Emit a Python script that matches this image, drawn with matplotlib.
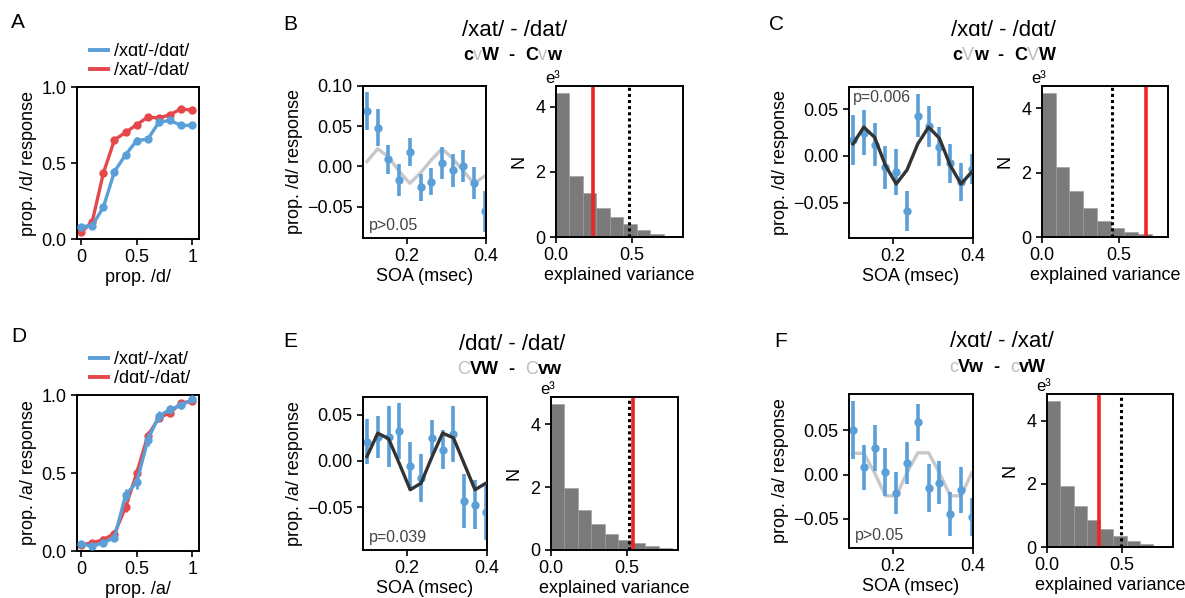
import numpy as np
import matplotlib
matplotlib.use("Agg")
import matplotlib.pyplot as plt
from matplotlib.lines import Line2D

plt.rcParams['font.family'] = ['Liberation Sans', 'DejaVu Sans']
plt.rcParams['axes.linewidth'] = 1.4
plt.rcParams['xtick.labelsize'] = 13
plt.rcParams['ytick.labelsize'] = 13
plt.rcParams['axes.labelsize'] = 13
plt.rcParams['xtick.major.width'] = 1.2
plt.rcParams['ytick.major.width'] = 1.2
plt.rcParams['xtick.major.size'] = 4
plt.rcParams['ytick.major.size'] = 4

blue = '#5a9fd8'
red = '#e5484a'

# psychometric curves (A, D)
prop = [0.0, 0.1, 0.2, 0.3, 0.4, 0.5, 0.6, 0.7, 0.8, 0.9, 1.0]
A_blue = [0.081, 0.088, 0.209, 0.444, 0.554, 0.648, 0.657, 0.769, 0.780, 0.747, 0.747]
A_red = [0.044, 0.114, 0.433, 0.653, 0.701, 0.752, 0.802, 0.796, 0.818, 0.857, 0.846]
A_blue_err = [0.015, 0.015, 0.02, 0.02, 0.02, 0.02, 0.02, 0.02, 0.015, 0.015, 0.015]
A_red_err = [0.015, 0.015, 0.02, 0.02, 0.02, 0.02, 0.015, 0.015, 0.015, 0.015, 0.015]
D_blue = [0.047, 0.030, 0.054, 0.084, 0.360, 0.440, 0.714, 0.865, 0.908, 0.933, 0.972]
D_red = [0.040, 0.052, 0.073, 0.112, 0.280, 0.500, 0.740, 0.854, 0.886, 0.950, 0.960]
D_blue_err = [0.015, 0.015, 0.02, 0.02, 0.04, 0.04, 0.04, 0.035, 0.03, 0.02, 0.02]
D_red_err = [0.015, 0.015, 0.02, 0.02, 0.03, 0.03, 0.03, 0.02, 0.02, 0.015, 0.015]

# SOA behavioural oscillations (B, C, E, F)
soa = [0.100, 0.127, 0.154, 0.181, 0.208, 0.235, 0.262, 0.289, 0.316, 0.343, 0.370, 0.397]
B_y = [0.069, 0.048, 0.009, -0.017, 0.018, -0.026, -0.019, 0.004, -0.005, 0.001, -0.021, -0.056]
B_err = [0.024, 0.023, 0.018, 0.020, 0.017, 0.017, 0.017, 0.020, 0.020, 0.020, 0.020, 0.025]
B_fit = [0.006, 0.022, 0.012, -0.006, -0.021, -0.008, 0.008, 0.022, 0.010, -0.006, -0.021, -0.012]
C_y = [0.017, 0.025, 0.012, -0.012, -0.017, -0.059, 0.043, 0.032, 0.010, -0.008, -0.028, -0.014]
C_err = [0.027, 0.024, 0.023, 0.023, 0.025, 0.021, 0.023, 0.022, 0.021, 0.021, 0.020, 0.016]
C_fit = [0.013, 0.031, 0.020, -0.010, -0.030, -0.015, 0.013, 0.031, 0.019, -0.010, -0.030, -0.017]
E_y = [0.021, 0.026, 0.026, 0.032, -0.005, -0.018, 0.025, 0.012, 0.029, -0.043, -0.047, -0.055]
E_err = [0.024, 0.023, 0.033, 0.030, 0.026, 0.026, 0.019, 0.021, 0.030, 0.029, 0.026, 0.030]
E_fit = [0.005, 0.030, 0.024, -0.003, -0.031, -0.024, 0.004, 0.030, 0.025, -0.003, -0.031, -0.024]
F_y = [0.050, 0.008, 0.030, 0.003, -0.021, 0.013, 0.059, -0.015, -0.009, -0.045, -0.017, -0.048]
F_err = [0.033, 0.025, 0.026, 0.027, 0.024, 0.024, 0.021, 0.027, 0.024, 0.025, 0.026, 0.021]
F_fit = [0.024, 0.024, 0.002, -0.024, -0.024, 0.002, 0.0245, 0.0245, 0.002, -0.024, -0.024, 0.002]

# permutation histograms (counts in thousands)
bin_left = [0.0, 0.089, 0.178, 0.267, 0.356, 0.445, 0.534, 0.623, 0.712, 0.801]
B_hist = [4.42, 1.88, 1.36, 0.90, 0.61, 0.41, 0.22, 0.10, 0.04, 0.01]
C_hist = [4.47, 2.19, 1.42, 0.90, 0.51, 0.28, 0.155, 0.09, 0.04, 0.01]
E_hist = [4.64, 1.98, 1.27, 0.82, 0.50, 0.32, 0.21, 0.13, 0.05, 0.01]
F_hist = [4.62, 1.94, 1.31, 0.86, 0.57, 0.34, 0.18, 0.095, 0.02, 0.01]
observed = {'B': 0.247, 'C': 0.677, 'E': 0.540, 'F': 0.349}
threshold = {'B': 0.485, 'C': 0.456, 'E': 0.515, 'F': 0.496}

W, H = 1185, 598
fig = plt.figure(figsize=(W / 100, H / 100), dpi=100)


def box(x0, y0, x1, y1):
    return [x0 / W, 1 - y1 / H, (x1 - x0) / W, (y1 - y0) / H]


def psych(rect, blue_y, blue_e, red_y, red_e, labels, xlabel, ylabel):
    ax = fig.add_axes(box(*rect))
    ax.errorbar(prop, blue_y, yerr=blue_e, color=blue, marker='o', ms=5, lw=2.4,
                elinewidth=2, capsize=0, zorder=3, clip_on=False)
    ax.errorbar(prop, red_y, yerr=red_e, color=red, marker='o', ms=5, lw=2.4,
                elinewidth=2, capsize=0, zorder=2, clip_on=False)
    ax.set_xlim(-0.037, 1.06)
    ax.set_ylim(0, 1.0)
    ax.set_xticks([0, 0.5, 1])
    ax.set_xticklabels(['0', '0.5', '1'])
    ax.set_yticks([0, 0.5, 1.0])
    ax.set_xlabel(xlabel, labelpad=2)
    ax.set_ylabel(ylabel, labelpad=3)
    handles = [Line2D([], [], color=blue, lw=2.8), Line2D([], [], color=red, lw=2.8)]
    ax.legend(handles, labels, loc='lower left', bbox_to_anchor=(-0.0, 0.97), frameon=False,
              fontsize=13, handlelength=1.0, handletextpad=0.35, labelspacing=0.1,
              borderpad=0.2)
    return ax


def soa_panel(rect, y, err, fit, ylim, yticks, fit_color, ptext, ptop, ylabel):
    ax = fig.add_axes(box(*rect))
    ax.errorbar(soa, y, yerr=err, fmt='o', color=blue, ms=5, elinewidth=2.6,
                capsize=0, zorder=2)
    ax.plot(soa, fit, color=fit_color, lw=2.4, zorder=3 if fit_color != '#c8c8c8' else 1)
    ax.set_xlim(0.09, 0.4)
    ax.set_ylim(*ylim)
    ax.set_xticks([0.2, 0.4])
    ax.set_yticks(yticks)
    ax.set_xlabel('SOA (msec)', labelpad=2)
    ax.set_ylabel(ylabel, labelpad=3)
    if ptop:
        ax.text(0.03, 0.98, ptext, transform=ax.transAxes, ha='left', va='top',
                fontsize=11.5, color='#444444')
    else:
        ax.text(0.05, 0.03, ptext, transform=ax.transAxes, ha='left', va='bottom',
                fontsize=11.5, color='#444444')
    return ax


def hist_panel(rect, heights, obs, thr, xmax):
    ax = fig.add_axes(box(*rect))
    ax.bar(bin_left, heights, width=0.089, align='edge', color='#7a7a7a',
           edgecolor='#9a9a9a', linewidth=0.4)
    ax.axvline(obs, color='#f02424', lw=2.6)
    ax.axvline(thr, color='black', lw=2.2, linestyle=(0, (1, 1)))
    ax.set_xlim(0, xmax)
    ax.set_ylim(0, max(heights) * 1.05)
    ax.set_xticks([0.0, 0.5])
    ax.set_yticks([0, 2, 4])
    ax.set_xlabel('explained variance', labelpad=2)
    ax.set_ylabel('N', labelpad=6)
    ax.text(0.03, 1.0, 'e³', transform=ax.transAxes, ha='right', va='bottom', fontsize=12)
    return ax


def rich_text(x, y, pieces):
    # pieces drawn one after another, each a (text, bold, gray) tuple
    prev = None
    for s, bold, gray in pieces:
        kw = dict(fontsize=13, fontweight='bold' if bold else 'normal',
                  color='#bdbdbd' if gray else 'black')
        if prev is None:
            prev = fig.text(x / W, 1 - y / H, s, ha='left', va='center', **kw)
        else:
            prev = fig.add_artist(plt.Annotation(s, xy=(1, 0), xycoords=prev, ha='left',
                                                 va='bottom', **kw))


# top row
psych((77, 87, 199, 239), A_blue, A_blue_err, A_red, A_red_err,
      ['/xɑt/-/dɑt/', '/xat/-/dat/'], 'prop. /d/', 'prop. /d/ response')
soa_panel((363, 86, 486, 238), B_y, B_err, B_fit, (-0.089, 0.10),
          [-0.05, 0, 0.05, 0.10], '#c8c8c8', 'p>0.05', False, 'prop. /d/ response')
hist_panel((556, 86, 683, 237), B_hist, observed['B'], threshold['B'], 0.84)
soa_panel((849, 87, 973, 238), C_y, C_err, C_fit, (-0.088, 0.074),
          [-0.05, 0, 0.05], '#333333', 'p=0.006', True, 'prop. /d/ response')
hist_panel((1042, 86, 1168, 237), C_hist, observed['C'], threshold['C'], 0.818)

# bottom row
psych((77, 395, 199, 551), D_blue, D_blue_err, D_red, D_red_err,
      ['/xɑt/-/xat/', '/dɑt/-/dat/'], 'prop. /a/', 'prop. /a/ response')
soa_panel((363, 397, 487, 550), E_y, E_err, E_fit, (-0.096, 0.069),
          [-0.05, 0, 0.05], '#333333', 'p=0.039', False, 'prop. /a/ response')
hist_panel((551, 397, 678, 550), E_hist, observed['E'], threshold['E'], 0.84)
soa_panel((849, 394, 973, 548), F_y, F_err, F_fit, (-0.083, 0.091),
          [-0.05, 0, 0.05], '#c8c8c8', 'p>0.05', False, 'prop. /a/ response')
hist_panel((1047, 394, 1173, 547), F_hist, observed['F'], threshold['F'], 0.844)

# panel letters
for letter, (x, y) in {'A': (18, 23), 'B': (290, 25), 'C': (776, 25),
                       'D': (19, 337), 'E': (290, 342), 'F': (781, 342)}.items():
    fig.text(x / W, 1 - y / H, letter, fontsize=15, ha='center', va='center')

# titles
for title, (x, y) in {'/xat/ - /dat/': (515, 30), '/xɑt/ - /dɑt/': (1003, 30),
                      '/dɑt/ - /dat/': (512, 345), '/xɑt/ - /xat/': (1002, 342)}.items():
    fig.text(x / W, 1 - y / H, title, fontsize=16, ha='center', va='center')

rich_text(463, 56, [('c', 1, 0), ('v', 0, 1), ('W', 1, 0), ('  -  ', 1, 0),
                    ('C', 1, 0), ('v', 0, 1), ('w', 1, 0)])
rich_text(952, 56, [('c', 1, 0), ('V', 0, 1), ('w', 1, 0), ('  -  ', 1, 0),
                    ('C', 1, 0), ('V', 0, 1), ('W', 1, 0)])
rich_text(457, 369, [('C', 0, 1), ('VW', 1, 0), ('  -  ', 1, 0),
                     ('C', 0, 1), ('vw', 1, 0)])
rich_text(949, 367, [('c', 0, 1), ('Vw', 1, 0), ('  -  ', 1, 0),
                     ('c', 0, 1), ('vW', 1, 0)])

fig.savefig('out.png', dpi=100)
